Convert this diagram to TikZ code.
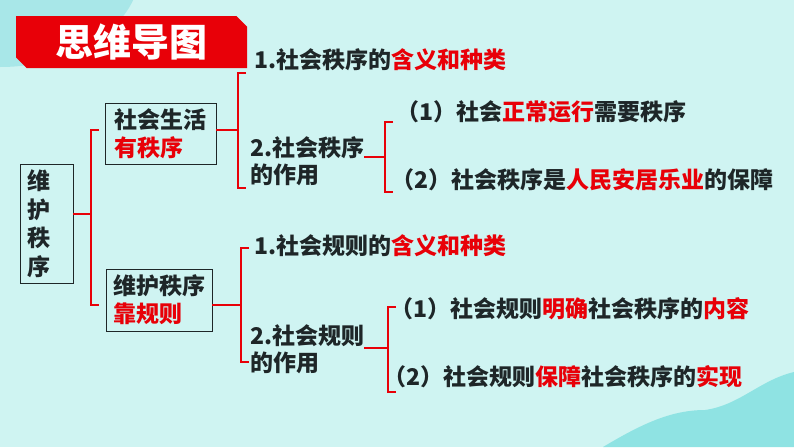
\documentclass[tikz,border=0pt]{standalone}
\usepackage{fontspec}
\setmainfont{Noto Sans CJK SC}[BoldFont={Noto Sans CJK SC Black}]
\usetikzlibrary{shapes.misc}
\definecolor{bgcyan}{RGB}{207,244,242}
\definecolor{blobtl}{RGB}{168,231,232}
\definecolor{blobbr}{RGB}{143,227,227}
\definecolor{mapred}{RGB}{232,0,8}
\definecolor{inkgray}{RGB}{30,38,40}
\newcommand{\redword}[1]{\textcolor{mapred}{#1}}
\tikzset{
  titlebox/.style={
    chamfered rectangle, chamfered rectangle corners={north east,south west},
    chamfered rectangle xsep=7pt,
    minimum width=231pt, minimum height=52pt, inner sep=0pt,
    font=\fontsize{38}{40}\selectfont\bfseries,
    fill=mapred, text=white
  },
  topicbox/.style={
    rectangle, inner sep=0pt, align=left,
    font=\fontsize{23}{28}\selectfont\bfseries,
    draw=inkgray, line width=0.8pt, text=inkgray
  },
  branchtext/.style={
    anchor=west, inner sep=0pt, align=left,
    font=\fontsize{23}{26.5}\selectfont\bfseries, text=inkgray
  },
  bracket/.style={draw=mapred, line width=2.8pt},
}

\begin{document}
\begin{tikzpicture}[x=1pt,y=-1pt]
      \useasboundingbox (0,0) rectangle (794,447);
      \fill[bgcyan] (0,0) rectangle (794,447);
      \begin{scope}
        \clip (0,0) rectangle (794,447);
        \fill[blobtl] (0,-30) ellipse [x radius=140pt, y radius=97pt];
        \fill[blobbr] (603,447) .. controls (640,425) and (670,410) .. (705,410)
                      .. controls (740,405) and (760,380) .. (794,372) -- (794,447) -- cycle;
      \end{scope}
      \node[titlebox](title)at(131.5,42){思维导图};
      \node[topicbox,text width=38pt,inner xsep=7.5pt,minimum height=119pt,font=\fontsize{23}{28.5}\selectfont\bfseries](root)at(46.5,223.5){维\\护\\秩\\序};
      \node[topicbox,minimum width=111pt,minimum height=61pt](life)at(160.5,133.5){社会生活\\\redword{有秩序}};
      \node[topicbox,minimum width=106pt,minimum height=62pt](rule)at(159,300){维护秩序\\\redword{靠规则}};
      \node[branchtext](meaning1)at(254,60) {1.社会秩序的\redword{含义和种类}};
      \node[branchtext](role1)   at(250,161){2.社会秩序\\的作用};
      \node[branchtext](item11)  at(396,112){（1）社会\redword{正常运行}需要秩序};
      \node[branchtext](item12)  at(391,180){（2）社会秩序是\redword{人民安居乐业}的保障};
      \node[branchtext](meaning2)at(254,246){1.社会规则的\redword{含义和种类}};
      \node[branchtext](role2)   at(250,349){2.社会规则\\的作用};
      \node[branchtext](item21)  at(390,309){（1）社会规则\redword{明确}社会秩序的\redword{内容}};
      \node[branchtext](item22)  at(383,377){（2）社会规则\redword{保障}社会秩序的\redword{实现}};
      \coordinate(j0)at(91,214);  \coordinate(t0)at(91,130);  \coordinate(b0)at(91,305);
      \coordinate(j1)at(238,130); \coordinate(t1)at(238,73);  \coordinate(b1)at(238,188);
      \coordinate(j2)at(385,157); \coordinate(t2)at(385,122); \coordinate(b2)at(385,192);
      \coordinate(j3)at(241,305); \coordinate(t3)at(241,248); \coordinate(b3)at(241,362);
      \coordinate(j4)at(388,348); \coordinate(t4)at(388,307); \coordinate(b4)at(388,392);
      \draw[bracket]([xshift=8pt]t0)--(t0)--(b0)--([xshift=8pt]b0);
      \draw[bracket]([xshift=8pt]t1)--(t1)--(b1)--([xshift=8pt]b1);
      \draw[bracket]([xshift=8pt]t2)--(t2)--(b2)--([xshift=8pt]b2);
      \draw[bracket]([xshift=8pt]t3)--(t3)--(b3)--([xshift=8pt]b3);
      \draw[bracket]([xshift=8pt]t4)--(t4)--(b4)--([xshift=8pt]b4);
      \draw[bracket](root.east |- j0)--(j0);
      \draw[bracket](life.east |- j1)--(j1);
      \draw[bracket](role1.east |- j2)--(j2);
      \draw[bracket](rule.east |- j3)--(j3);
      \draw[bracket](role2.east |- j4)--(j4);
    \end{tikzpicture}
\end{document}
